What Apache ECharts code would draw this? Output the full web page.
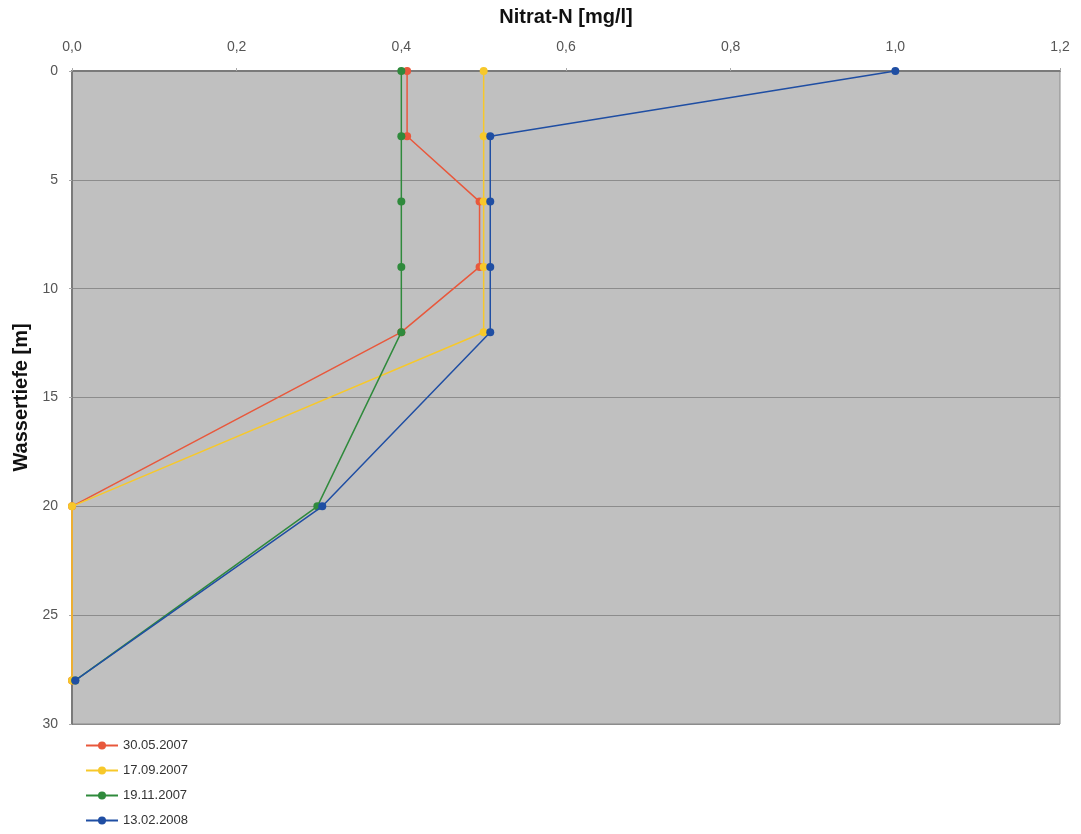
<!DOCTYPE html>
<html>
<head>
<meta charset="utf-8">
<script src="https://cdn.jsdelivr.net/npm/echarts@6/dist/echarts.min.js"></script>
<style>html,body{margin:0;padding:0;background:#fff;}#c{width:1081px;height:834px;}</style>
</head>
<body>
<div id="c"></div>
<script>
const depths = [0, 3, 6, 9, 12, 20, 28];
const seriesNames = ['30.05.2007', '17.09.2007', '19.11.2007', '13.02.2008'];
const s1 = [0.407, 0.407, 0.495, 0.495, 0.40, 0.0, 0.0];
const s2 = [0.50, 0.50, 0.50, 0.50, 0.50, 0.0, 0.0];
const s3 = [0.40, 0.40, 0.40, 0.40, 0.40, 0.298, 0.004];
const s4 = [1.0, 0.508, 0.508, 0.508, 0.508, 0.304, 0.004];
const colors = ['#e8583c', '#f7c82a', '#2f8a3c', '#1f4ea3'];
const allVals = [s1, s2, s3, s4];

const chart = echarts.init(document.getElementById('c'));
chart.setOption({
  animation: false,
  color: colors,
  grid: {left: 72, right: 21, top: 71, bottom: 110, containLabel: false, outerBoundsMode: 'none', show: true, backgroundColor: '#c0c0c0', borderColor: '#8a8a8a', borderWidth: 1},
  xAxis: {
    type: 'value', position: 'top', min: 0, max: 1.2, interval: 0.2,
    name: 'Nitrat-N [mg/l]', nameLocation: 'middle', nameGap: 44,
    nameTextStyle: {fontFamily: 'Liberation Sans Narrow, Liberation Sans', fontWeight: 'bold', fontSize: 20, color: '#111'},
    axisLine: {show: true, lineStyle: {color: '#7a7a7a', width: 2}},
    axisTick: {show: true, length: 3, lineStyle: {color: '#aaa'}},
    axisLabel: {color: '#555', fontSize: 14, fontFamily: 'Liberation Sans', margin: 17, formatter: v => v.toFixed(1).replace('.', ',')},
    splitLine: {show: false}
  },
  yAxis: {
    type: 'value', inverse: true, min: 0, max: 30, interval: 5,
    name: 'Wassertiefe [m]', nameLocation: 'middle', nameGap: 40,
    nameTextStyle: {fontFamily: 'Liberation Sans Narrow, Liberation Sans', fontWeight: 'bold', fontSize: 20, color: '#111'},
    axisLine: {show: true, lineStyle: {color: '#7a7a7a', width: 2}},
    axisTick: {show: true, length: 3, lineStyle: {color: '#aaa'}},
    axisLabel: {color: '#555', fontSize: 14, fontFamily: 'Liberation Sans', margin: 14},
    splitLine: {show: true, lineStyle: {color: '#8c8c8c', width: 1}}
  },
  legend: {
    orient: 'vertical', left: 80, top: 737, height: 97, itemGap: 12, itemWidth: 32, itemHeight: 10,
    padding: [2, 5, 2, 5],
    data: seriesNames,
    textStyle: {color: '#333', fontSize: 13, fontFamily: 'Liberation Sans Narrow, Liberation Sans'}
  },
  series: seriesNames.map((n, i) => ({
    name: n, type: 'line',
    data: depths.map((d, k) => [allVals[i][k], d]),
    symbol: 'circle', symbolSize: 8,
    lineStyle: {width: 1.5, color: colors[i]},
    itemStyle: {color: colors[i]},
    z: 2 + i
  }))
});
</script>
</body>
</html>
